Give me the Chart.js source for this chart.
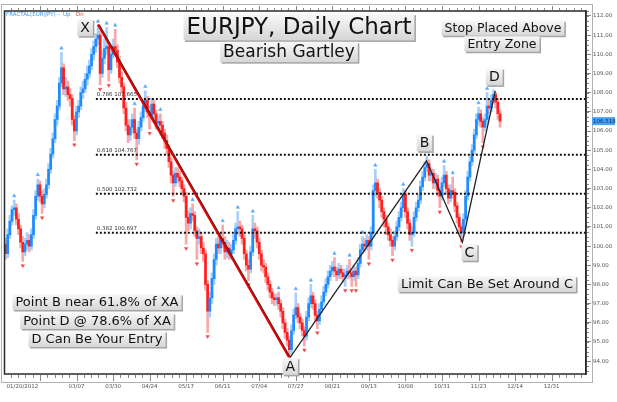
<!DOCTYPE html>
<html>
<head>
<meta charset="utf-8">
<script src="https://cdn.jsdelivr.net/npm/chart.js@4.4.0/dist/chart.umd.min.js"></script>
<style>
  html, body { margin: 0; padding: 0; background: #fff; }
  #wrap { width: 617px; height: 402px; position: relative; }
</style>
</head>
<body>
<div id="wrap"><canvas id="chart"></canvas></div>
<script>
// EURJPY daily candles, 01/20/2012 .. 12/07/2012 (index = trading day)
const firstOpen = 100.1;
const closes = [
  99.6,100.6,101.3,101.9,102.0,101.4,100.9,100.2,99.7,100.1,
  100.3,100.0,100.6,101.6,102.6,103.2,102.6,102.2,102.7,103.2,
  104.0,104.8,105.6,106.6,107.3,108.5,109.3,108.2,108.3,107.9,
  107.7,106.6,106.0,107.0,107.3,108.0,108.2,108.7,109.0,109.4,
  110.0,110.4,110.8,111.0,109.0,109.8,110.3,110.4,109.2,110.0,
  110.4,110.2,109.6,108.8,108.3,107.2,106.3,105.8,106.2,106.6,
  105.9,105.6,106.2,106.7,107.3,107.6,107.0,106.8,107.4,106.9,
  106.4,106.5,106.3,105.9,105.5,105.1,104.4,103.7,103.3,103.8,
  103.6,103.4,103.0,102.6,101.5,101.2,101.7,101.6,100.8,100.4,
  100.5,99.9,99.6,98.0,96.6,97.3,98.3,99.3,100.1,99.9,
  100.4,100.2,99.7,99.9,99.6,99.8,100.3,100.9,101.0,100.9,
  100.4,99.6,99.0,98.8,99.7,100.9,100.8,100.2,99.6,99.0,
  98.9,98.4,98.0,97.6,97.3,97.2,97.3,97.0,96.6,96.0,
  95.5,95.1,94.6,95.6,96.4,96.8,96.3,96.0,95.6,95.3,
  96.3,97.0,97.4,97.0,96.4,96.1,96.7,97.1,97.6,98.0,
  98.4,98.7,98.9,98.7,98.5,98.8,98.6,98.4,98.5,98.7,
  98.6,98.4,98.7,98.5,99.1,99.8,100.1,100.0,100.3,100.0,
  100.7,102.9,103.3,102.8,102.4,101.8,101.4,101.0,100.6,100.3,
  100.0,100.5,101.0,101.5,102.0,102.7,101.8,101.2,100.6,100.7,
  101.5,102.0,102.4,103.1,103.6,104.1,104.3,103.7,103.8,103.3,
  103.5,102.9,102.6,103.3,103.7,103.0,102.5,102.9,102.8,102.1,
  101.5,101.0,100.7,101.4,102.6,103.6,104.4,105.0,105.8,106.6,
  106.9,106.5,106.2,106.6,107.3,107.2,107.6,107.9,107.5,106.9,
  106.518
];
const highs = [
  100.4,100.9,101.6,102.1,102.4,102.2,101.7,101.1,100.5,100.4,
  100.7,100.6,100.9,101.9,102.9,103.5,103.4,102.9,103.0,103.5,
  104.3,105.1,105.9,106.9,107.6,108.8,110.1,109.5,108.8,108.6,
  108.2,107.9,106.8,107.3,107.6,108.3,108.6,109.0,109.4,109.7,
  110.3,110.7,111.1,111.5,111.2,110.2,110.8,111.4,110.6,110.3,
  110.8,111.3,110.5,109.9,109.1,108.5,107.5,106.6,106.6,106.9,
  107.2,106.1,106.5,107.0,107.6,108.1,107.8,107.3,107.7,107.6,
  107.1,106.8,106.9,106.5,106.1,105.8,105.3,104.6,103.9,104.1,
  104.1,103.9,103.6,103.2,102.8,101.8,102.0,102.2,101.8,101.0,
  100.9,100.7,100.2,99.8,98.2,97.6,98.6,99.6,100.4,100.5,
  100.7,101.1,100.5,100.3,100.2,100.1,100.6,101.2,101.8,101.3,
  101.1,100.6,99.8,99.3,100.0,101.6,101.2,101.0,100.4,99.8,
  99.3,99.1,98.6,98.2,97.8,97.5,97.5,97.6,97.2,96.8,
  96.2,95.7,95.3,95.9,96.7,97.55,97.0,96.5,96.2,95.8,
  96.6,97.3,98.0,97.6,97.2,96.6,97.0,97.4,97.9,98.3,
  98.7,99.0,99.2,99.4,98.9,99.1,99.0,98.8,98.8,99.0,
  99.3,98.8,99.0,98.9,99.4,100.1,100.5,100.4,100.6,100.5,
  101.0,103.2,104.0,103.5,103.0,102.6,102.0,101.6,101.2,100.9,
  100.5,100.8,101.3,101.8,102.3,103.0,102.9,102.0,101.4,101.0,
  101.8,102.3,102.7,103.4,103.9,104.4,104.7,104.5,104.1,104.0,
  103.8,103.7,103.1,103.6,104.2,103.9,103.2,103.2,103.6,103.0,
  102.3,101.7,101.2,101.7,102.9,103.9,104.7,105.3,106.1,106.9,
  107.25,107.1,106.7,106.9,108.0,107.6,107.9,108.15,108.0,107.7,
  107.1
];
const lows = [
  99.3,99.4,100.4,101.1,101.6,101.1,100.6,99.9,99.2,99.5,
  99.8,99.7,99.8,100.4,101.4,102.4,102.3,101.7,102.0,102.5,
  103.0,103.8,104.6,105.4,106.3,107.1,108.3,107.9,107.8,107.6,
  107.3,106.3,105.5,105.8,106.7,107.1,107.7,108.0,108.4,108.8,
  109.2,109.7,110.1,110.5,108.4,108.8,109.5,110.0,108.6,109.0,
  109.8,109.9,109.3,108.5,108.0,106.9,106.0,105.4,105.5,105.9,
  105.6,104.5,105.3,106.0,106.5,107.0,106.7,106.1,106.6,106.6,
  106.1,106.1,106.0,105.6,105.1,104.8,104.1,103.3,102.6,103.1,
  103.3,103.1,102.7,102.3,100.1,100.8,100.9,101.3,100.5,99.3,
  100.1,99.6,99.2,97.7,95.5,96.3,97.0,98.0,99.0,99.6,
  99.6,99.9,99.3,99.4,99.3,99.3,99.6,100.1,100.6,100.5,
  100.1,99.3,98.7,98.2,98.6,99.5,100.4,99.9,99.3,98.7,
  98.6,98.1,97.7,97.3,97.0,96.9,96.9,96.7,96.3,95.7,
  95.2,94.8,94.2,94.4,95.4,96.2,96.0,95.7,95.3,94.8,
  95.1,96.1,96.8,96.7,96.1,95.7,95.9,96.5,96.9,97.4,
  97.8,98.2,98.5,98.4,98.2,98.3,98.3,98.1,97.9,98.3,
  98.3,97.9,98.2,97.9,98.3,98.9,99.6,99.7,99.8,99.3,
  99.8,100.5,102.6,102.5,102.0,101.5,101.0,100.6,100.3,100.0,
  99.5,99.8,100.3,100.8,101.3,101.8,101.5,100.9,100.3,100.0,
  100.5,101.3,101.8,102.2,102.9,103.4,103.9,103.4,103.4,103.0,
  103.0,102.6,102.0,102.4,103.1,102.7,102.2,102.3,102.5,101.8,
  101.2,100.7,100.2,100.5,101.2,102.4,103.4,104.2,104.8,105.6,
  106.3,106.2,105.4,106.0,106.4,106.9,107.0,107.4,107.2,106.6,
  106.2
];

// Fractal indicator marks (candle index)
const fractalUp = [4,15,26,43,47,51,60,65,72,87,101,108,115,127,135,142,153,160,166,172,185,196,204,208,220,224,227];
const fractalDown = [8,17,32,44,48,61,67,78,84,89,94,113,132,139,145,158,161,163,169,180,189,202,212,222];

// Gartley points X, A, B, C, D
const patternNames = ['X','A','B','C','D'];
const patternIdx = [43.5, 132.4, 195.8, 212.5, 227.8];
const patternPrice = [111.55, 94.2, 104.45, 100.2, 108.1];

// Fibonacci retracements of XA
const fibRatio = [0.786, 0.618, 0.500, 0.382];
const fibLevel = [107.665, 104.767, 102.732, 100.697];
const fibStartIdx = 42;

// x axis labels and y ticks
const dateIdx = [0,33,50,67,84,101,118,135,152,169,186,203,220,237,254];
const dateText = ['01/20/2012','03/07','03/30','04/24','05/17','06/11','07/04','07/27','08/21','09/13','10/08','10/31','11/23','12/14','12/31'];
const yMin = 93.33, yMax = 112.26;
const xMax = 270;

const opens = [firstOpen].concat(closes.slice(0, -1));
const isUp = closes.map((c, i) => c >= opens[i]);

const FONT = '"DejaVu Sans", Verdana, sans-serif';

function tag(ctx, text, cx, cy, size) {
  ctx.font = size + 'px ' + FONT;
  const w = ctx.measureText(text).width;
  const h = size * 1.08;
  const x0 = cx - w / 2 - 3, y0 = cy - h / 2 - 1;
  const bw = w + 6, bh = h + 2;
  ctx.fillStyle = '#a4a4a4';
  ctx.fillRect(x0 + 1.5, y0 + 1.5, bw, bh);
  const g = ctx.createLinearGradient(0, y0, 0, y0 + bh);
  g.addColorStop(0, '#f8f8f8');
  g.addColorStop(1, '#d6d6d6');
  ctx.fillStyle = g;
  ctx.fillRect(x0, y0, bw, bh);
  ctx.fillStyle = '#111';
  ctx.textAlign = 'center';
  ctx.textBaseline = 'middle';
  ctx.fillText(text, cx, cy + 1);
}

const overlay = {
  id: 'overlay',
  beforeDraw(chart) {
    const { ctx, width, height } = chart;
    ctx.save();
    ctx.fillStyle = '#fff';
    ctx.fillRect(0, 0, width, height);
    ctx.restore();
  },
  afterDraw(chart) {
    const { ctx, chartArea: a, scales: { x, y } } = chart;
    ctx.save();

    // outer frame and plot border
    ctx.strokeStyle = '#b0b0b0';
    ctx.lineWidth = 1;
    ctx.strokeRect(1.5, 4.5, 591, 378);
    ctx.strokeStyle = '#2a2a2a';
    ctx.lineWidth = 1.5;
    ctx.strokeRect(a.left, a.top, a.right - a.left, a.bottom - a.top);

    // ruler ticks along bottom and top
    ctx.strokeStyle = '#888';
    ctx.lineWidth = 1;
    const step = 17 / 5;
    for (let k = -12; k < 80; k++) {
      const idx = 33 + k * step;
      if (idx < x.min || idx > xMax) continue;
      const px = Math.round(x.getPixelForValue(idx)) + 0.5;
      const major = k % 5 === 0;
      ctx.beginPath();
      ctx.moveTo(px, a.bottom + 1);
      ctx.lineTo(px, a.bottom + (major ? 7 : 4));
      ctx.moveTo(px, a.top - 1);
      ctx.lineTo(px, a.top - (major ? 5 : 3));
      ctx.stroke();
    }
    // minor ticks on the price axis
    for (let v = 93.5; v <= 112.25; v += 0.25) {
      const py = Math.round(y.getPixelForValue(v)) + 0.5;
      ctx.beginPath();
      ctx.moveTo(a.right + 1, py);
      ctx.lineTo(a.right + 3, py);
      ctx.stroke();
    }

    // date labels
    ctx.fillStyle = '#555';
    ctx.font = '5.5px ' + FONT;
    ctx.textBaseline = 'middle';
    dateIdx.forEach((idx, i) => {
      const px = x.getPixelForValue(idx);
      ctx.textAlign = i === 0 ? 'left' : 'center';
      ctx.fillText(dateText[i], i === 0 ? px + 1 : px, a.bottom + 13);
    });

    // fib labels
    ctx.fillStyle = '#333';
    ctx.textAlign = 'left';
    ctx.textBaseline = 'bottom';
    fibLevel.forEach((lv, i) => {
      ctx.fillText(fibRatio[i].toFixed(3) + ' ' + lv.toFixed(3), x.getPixelForValue(fibStartIdx) + 1, y.getPixelForValue(lv) - 1.5);
    });

    // indicator legend
    ctx.textBaseline = 'middle';
    ctx.fillStyle = '#3a96f0';
    ctx.fillText('FRACTAL(EUR/JPY) -  Up', 6, 15);
    ctx.fillStyle = '#f03030';
    ctx.fillText('Dn', 76, 15);

    // last price tag
    const last = closes[closes.length - 1];
    const ly = y.getPixelForValue(last);
    ctx.fillStyle = '#4aa0f2';
    ctx.fillRect(a.right + 6, ly - 4, 23, 8);
    ctx.fillStyle = '#0a2a55';
    ctx.fillText(last.toFixed(3), a.right + 7, ly);

    // pattern letters
    const off = { X: [-14, 3], A: [0, 9], B: [-2, -18], C: [7, 10], D: [-1, -14] };
    patternNames.forEach((n, i) => {
      const px = x.getPixelForValue(patternIdx[i]) + off[n][0];
      const py = y.getPixelForValue(patternPrice[i]) + off[n][1];
      tag(ctx, n, px, py, 14);
    });

    // text notes
    tag(ctx, 'EURJPY, Daily Chart', 299, 27, 23);
    tag(ctx, 'Bearish Gartley', 289, 52, 17);
    tag(ctx, 'Stop Placed Above', 503, 28, 12.5);
    tag(ctx, 'Entry Zone', 502, 44, 12.5);
    tag(ctx, 'Limit Can Be Set Around C', 487, 284, 13);
    tag(ctx, 'Point B near 61.8% of XA', 97, 302, 13);
    tag(ctx, 'Point D @ 78.6% of XA', 97, 321, 13);
    tag(ctx, 'D Can Be Your Entry', 97, 339, 13);

    ctx.restore();
  }
};

const fibSets = fibLevel.map(lv => ({
  type: 'line',
  data: [{ x: fibStartIdx, y: lv }, { x: xMax, y: lv }],
  borderColor: '#111',
  borderWidth: 2,
  borderDash: [2, 2],
  pointRadius: 0,
  order: 1
}));

new Chart(document.getElementById('chart'), {
  type: 'bar',
  data: {
    datasets: [
      {
        label: 'wicks',
        data: closes.map((c, i) => ({ x: i, y: [lows[i], highs[i]] })),
        backgroundColor: isUp.map(u => u ? '#a6d0f8' : '#f8a8a8'),
        barThickness: 2,
        grouped: false,
        order: 5
      },
      {
        label: 'bodies',
        data: closes.map((c, i) => ({ x: i, y: [Math.min(opens[i], c), Math.max(opens[i], c)] })),
        backgroundColor: isUp.map(u => u ? '#1f8bff' : '#ff1f1f'),
        barThickness: 2,
        minBarLength: 1,
        grouped: false,
        order: 4
      },
      {
        type: 'scatter',
        label: 'fractal up',
        data: fractalUp.map(i => ({ x: i, y: highs[i] + 0.22 })),
        pointStyle: 'triangle',
        pointRadius: 2,
        backgroundColor: '#5aa8f5',
        borderColor: '#5aa8f5',
        borderWidth: 0.5,
        order: 3
      },
      {
        type: 'scatter',
        label: 'fractal down',
        data: fractalDown.map(i => ({ x: i, y: lows[i] - 0.22 })),
        pointStyle: 'triangle',
        rotation: 180,
        pointRadius: 2,
        backgroundColor: '#f04848',
        borderColor: '#f04848',
        borderWidth: 0.5,
        order: 3
      },
      ...fibSets,
      {
        type: 'line',
        label: 'XA red',
        data: [0, 1].map(i => ({ x: patternIdx[i] - 0.6, y: patternPrice[i] })),
        borderColor: '#e80000',
        borderWidth: 2,
        pointRadius: 0,
        order: 0
      },
      {
        type: 'line',
        label: 'pattern',
        data: patternIdx.map((v, i) => ({ x: v, y: patternPrice[i] })),
        borderColor: '#222',
        borderWidth: 1.3,
        pointRadius: 0,
        order: 0
      }
    ]
  },
  options: {
    responsive: true,
    maintainAspectRatio: false,
    animation: false,
    layout: { padding: { left: 2, top: 11, right: 0, bottom: 28 } },
    plugins: { legend: { display: false }, tooltip: { enabled: false } },
    scales: {
      x: {
        type: 'linear',
        offset: false,
        min: -0.5,
        max: xMax,
        display: false
      },
      y: {
        position: 'right',
        min: yMin,
        max: yMax,
        afterFit(scale) { scale.width = 31; },
        border: { display: true, color: '#2a2a2a', width: 1.5 },
        grid: { drawOnChartArea: false, tickLength: 5, color: '#888' },
        ticks: {
          stepSize: 1,
          includeBounds: false,
          padding: 2,
          color: '#555',
          font: { size: 5.5, family: FONT },
          callback: v => Number(v).toFixed(2)
        }
      }
    }
  },
  plugins: [overlay]
});
</script>
</body>
</html>
